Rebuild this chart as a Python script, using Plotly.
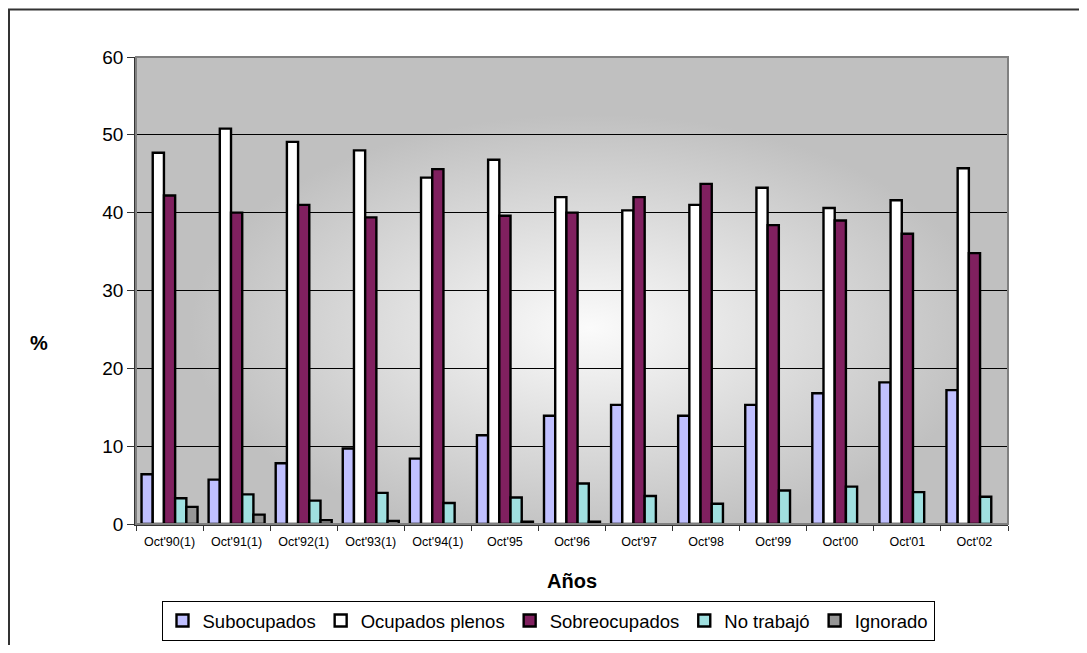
import base64
import plotly.graph_objects as go

# Data (% of employed)
periodos = ["Oct'90(1)", "Oct'91(1)", "Oct'92(1)", "Oct'93(1)", "Oct'94(1)", "Oct'95",
            "Oct'96", "Oct'97", "Oct'98", "Oct'99", "Oct'00", "Oct'01", "Oct'02"]
subocupados = [6.4, 5.7, 7.8, 9.7, 8.4, 11.4, 13.9, 15.3, 13.9, 15.3, 16.8, 18.2, 17.2]
ocupados_plenos = [47.7, 50.8, 49.1, 48.0, 44.5, 46.8, 42.0, 40.3, 41.0, 43.2, 40.6, 41.6, 45.7]
sobreocupados = [42.2, 40.0, 41.0, 39.4, 45.6, 39.6, 40.0, 42.0, 43.7, 38.4, 39.0, 37.3, 34.8]
no_trabajo = [3.3, 3.8, 3.0, 4.0, 2.7, 3.4, 5.2, 3.6, 2.6, 4.3, 4.8, 4.1, 3.5]
ignorado = [2.2, 1.2, 0.5, 0.4, None, 0.3, 0.3, None, None, None, None, None, None]

series = [
    ("Subocupados", subocupados, "#C0C0FF"),
    ("Ocupados plenos", ocupados_plenos, "#FFFFFF"),
    ("Sobreocupados", sobreocupados, "#80205F"),
    ("No trabajó", no_trabajo, "#A0E0E0"),
    ("Ignorado", ignorado, "#969696"),
]

# gray radial background of the plot area (like Excel's "from center" fill)
svg = ('<svg xmlns="http://www.w3.org/2000/svg" width="872" height="467" '
       'preserveAspectRatio="none" viewBox="0 0 872 467">'
       '<defs><radialGradient id="g" cx="0.52" cy="0.58" r="0.52">'
       '<stop offset="0" stop-color="#FBFBFB"/>'
       '<stop offset="0.88" stop-color="#C0C0C0"/>'
       '<stop offset="1" stop-color="#C0C0C0"/>'
       '</radialGradient></defs>'
       '<rect width="872" height="467" fill="#C0C0C0"/>'
       '<rect width="872" height="467" fill="url(#g)"/></svg>')
bg_src = "data:image/svg+xml;base64," + base64.b64encode(svg.encode()).decode()

fig = go.Figure()
for name, vals, col in series:
    fig.add_trace(go.Bar(x=periodos, y=vals, name=name,
                         marker=dict(color=col, line=dict(color="#000000", width=2.4))))

# page positions of the plot area: left=136, right=1008, top=57, bottom=524 (px)
# (the page body adds an 8px offset, so the figure itself is 8px smaller each way)
def px_x(p):
    return (p - 136) / 872

def px_y(p):
    return (524 - p) / 467

fig.update_layout(
    width=1071, height=637,
    margin=dict(l=128, r=71, t=49, b=121, autoexpand=False),
    paper_bgcolor="white",
    plot_bgcolor="rgba(0,0,0,0)",
    font=dict(family="Liberation Sans, Arial, sans-serif", color="#000000"),
    barmode="group",
    bargap=0.165,
    bargroupgap=0,
    showlegend=True,
    legend=dict(orientation="h", x=px_x(548), xanchor="center", y=px_y(641), yanchor="bottom",
                bordercolor="#000000", borderwidth=1, bgcolor="white",
                font=dict(size=18.5), itemwidth=30, traceorder="normal"),
    images=[dict(source=bg_src, xref="paper", yref="paper", x=0, y=1, sizex=1, sizey=1,
                 sizing="stretch", layer="below", xanchor="left", yanchor="top")],
    shapes=[
        # plot area frame (top/right gray)
        dict(type="rect", xref="paper", yref="paper", x0=0, y0=0, x1=1, y1=1,
             line=dict(color="#808080", width=2), layer="above"),
        # outer chart border
        dict(type="rect", xref="paper", yref="paper", x0=px_x(9), y0=px_y(670),
             x1=px_x(1100), y1=px_y(9.5), line=dict(color="#333333", width=2)),
    ],
    annotations=[
        dict(text="<b>%</b>", xref="paper", yref="paper", x=px_x(39), y=px_y(343),
             showarrow=False, font=dict(size=20), xanchor="center", yanchor="middle"),
        dict(text="<b>Años</b>", xref="paper", yref="paper", x=px_x(572), y=px_y(581),
             showarrow=False, font=dict(size=20), xanchor="center", yanchor="middle"),
    ],
)

fig.update_yaxes(range=[0, 60], dtick=10, ticks="outside", ticklen=7, tickcolor="#333333",
                 showline=True, linecolor="#333333", linewidth=1.5,
                 showgrid=True, gridcolor="#000000", gridwidth=1, zeroline=False,
                 tickfont=dict(size=19))
fig.update_xaxes(type="category", ticks="outside", tickson="boundaries", ticklen=5,
                 tickcolor="#333333", showline=True, linecolor="#333333", linewidth=1.5,
                 tickfont=dict(size=12.5), tickangle=0, ticklabelstandoff=5)

fig.write_html("out.html")
